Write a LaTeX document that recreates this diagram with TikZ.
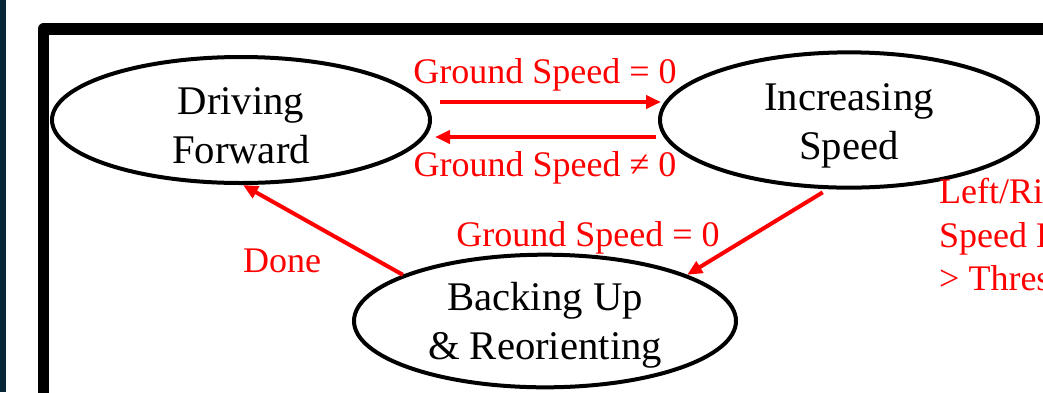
\documentclass[tikz,border=0pt]{standalone}
\usepackage{fontspec}
\setmainfont{Liberation Serif}
\usetikzlibrary{shapes.geometric,arrows.meta}
\definecolor{navy}{RGB}{8,38,56}
\definecolor{redtxt}{RGB}{255,0,0}
\newcommand{\lift}[1]{\rule{0pt}{#1}}
\begin{document}
\begin{tikzpicture}[x=1pt,y=-1pt,
  state/.style={ellipse,draw=black,line width=4pt,inner sep=0pt,minimum width=378pt,minimum height=126pt,align=center,font=\fontsize{40.7}{49}\selectfont},
  lbl/.style={text=redtxt,font=\fontsize{36}{43.5}\selectfont,inner sep=0pt},
  arr/.style={draw=redtxt,line width=4pt,-{Triangle[length=15pt,width=13pt]}}]
\clip (0,0) rectangle (1043,392);
\fill[white] (0,0) rectangle (1043,392);
\fill[navy] (0,0) rectangle (6,392);
\draw[line width=11.5pt,line join=round] (43.5,420) -- (43.5,29) -- (1080,29);
\node[state] (DF) at (241,120) {\lift{38pt}Driving\\Forward};
\node[state] (IS) at (849,120) {\lift{38pt}Increasing\\Speed};
\node[state,minimum width=382pt] (BU) at (545,321) {\lift{36pt}Backing Up\\\& Reorienting};
\draw[arr] ([shift={(8pt,18pt)}]DF.east) -- ([shift={(3pt,18pt)}]IS.west);
\draw[arr] ([shift={(-2pt,-17pt)}]IS.west) -- ([shift={(3pt,-17pt)}]DF.east);
\draw[arr] (BU.162) -- ([xshift=2pt]DF.south);
\draw[arr,shorten <=6pt] (IS.253) -- (BU.18);
\node[lbl,anchor=base] (l1) at (545,83) {Ground Speed = 0};
\node[lbl,anchor=base] (l2) at (545,176) {Ground Speed ≠ 0};
\node[lbl,anchor=base] (l3) at (588,246) {Ground Speed = 0};
\node[lbl,anchor=base] (l4) at (282,272) {Done};
\node[lbl,anchor=base west] (l5a) at (939,203) {Left/Right};
\node[lbl,anchor=base west] (l5b) at (939,247) {Speed Difference};
\node[lbl,anchor=base west] (l5c) at (939,290) {> Threshold};
\end{tikzpicture}
\end{document}
